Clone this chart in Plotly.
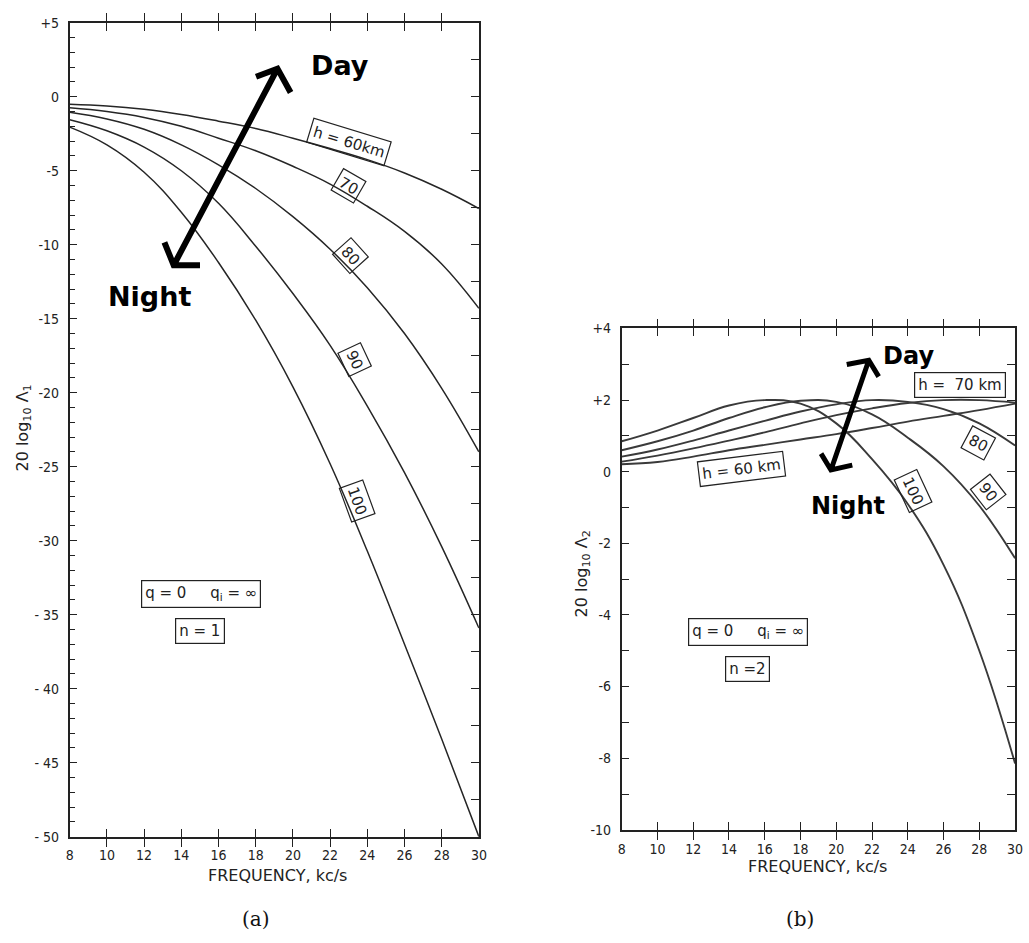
import plotly.graph_objects as go

W, H = 1029, 943

# ---- data -------------------------------------------------------------
freq = [8, 10, 12, 14, 16, 18, 20, 22, 24, 26, 28, 30]          # kc/s

# (a) n = 1 : 20 log10 Lambda_1 (dB) for reflection heights h
a_h60 = [-0.5, -0.62, -0.85, -1.2, -1.65, -2.15, -2.8, -3.5, -4.25, -5.15, -6.25, -7.55]
a_h70 = [-0.75, -1.0, -1.4, -2.0, -2.8, -3.65, -4.7, -5.9, -7.4, -9.1, -11.3, -14.3]
a_h80 = [-1.05, -1.5, -2.2, -3.25, -4.6, -6.2, -8.1, -10.3, -12.9, -16.0, -19.7, -24.0]
a_h90 = [-1.55, -2.3, -3.4, -5.0, -7.2, -10.1, -13.3, -16.8, -20.9, -25.4, -30.4, -35.9]
a_h100 = [-2.05, -3.25, -5.1, -7.8, -11.2, -15.1, -19.6, -24.8, -30.7, -37.0, -43.4, -50.0]

# (b) n = 2 : 20 log10 Lambda_2 (dB)
b_h60 = [0.21, 0.27, 0.42, 0.6, 0.75, 0.9, 1.05, 1.22, 1.4, 1.56, 1.72, 1.9]
b_h70 = [0.28, 0.45, 0.65, 0.87, 1.1, 1.35, 1.58, 1.77, 1.92, 2.0, 2.0, 1.93]
b_h80 = [0.42, 0.62, 0.87, 1.15, 1.42, 1.68, 1.88, 2.0, 1.95, 1.75, 1.35, 0.73]
b_h90 = [0.6, 0.85, 1.15, 1.5, 1.8, 1.98, 1.95, 1.6, 0.95, 0.15, -0.95, -2.42]
b_h100 = [0.85, 1.15, 1.5, 1.85, 2.0, 1.9, 1.35, 0.35, -0.9, -2.6, -5.0, -8.15]

a_ytick_vals = [5, 0, -5, -10, -15, -20, -25, -30, -35, -40, -45, -50]
a_ytick_text = ["+5", "0", "-5", "-10", "-15", "-20", "-25", "-30", "- 35", "- 40", "- 45", "- 50"]
b_ytick_vals = [4, 2, 0, -2, -4, -6, -8, -10]
b_ytick_text = ["+4", "+2", "0", "-2", "-4", "-6", "-8", "-10"]

# ---- styling ----------------------------------------------------------
INK = "#222222"
TICKFONT = dict(family="DejaVu Sans Condensed, Liberation Sans Narrow, DejaVu Sans, sans-serif",
                size=14, color=INK)
LABEL = "DejaVu Sans, Verdana, sans-serif"
SERIF = "DejaVu Serif, Liberation Serif, serif"


def px(x):
    return x / W


def py(y):
    return 1 - y / H


fig = go.Figure()

for ys in (a_h60, a_h70, a_h80, a_h90, a_h100):
    fig.add_trace(go.Scatter(x=freq, y=ys, mode="lines", xaxis="x", yaxis="y",
                             line=dict(color="#262626", width=1.5, shape="spline", smoothing=1.2),
                             showlegend=False, hoverinfo="skip"))
# carriers for the right-hand tick axes
fig.add_trace(go.Scatter(x=[None], y=[None], xaxis="x", yaxis="y3",
                         showlegend=False, hoverinfo="skip"))
fig.add_trace(go.Scatter(x=[None], y=[None], xaxis="x2", yaxis="y4",
                         showlegend=False, hoverinfo="skip"))

for ys in (b_h60, b_h70, b_h80, b_h90, b_h100):
    fig.add_trace(go.Scatter(x=freq, y=ys, mode="lines", xaxis="x2", yaxis="y2",
                             line=dict(color="#3a3a3a", width=1.9, shape="spline", smoothing=1.2),
                             showlegend=False, hoverinfo="skip"))

common_x = dict(range=[8, 30], tickvals=freq, ticktext=[str(f) for f in freq],
                ticks="inside", ticklen=8, tickwidth=1.3, tickcolor=INK,
                mirror="allticks", showline=True, linecolor=INK, linewidth=1.8,
                showgrid=False, zeroline=False, tickfont=TICKFONT,
                ticklabelstandoff=5, fixedrange=True)

right_ticks = dict(side="right", showticklabels=False, showline=False, ticks="inside",
                   ticklen=8, tickwidth=1.3, tickcolor=INK, showgrid=False,
                   zeroline=False, fixedrange=True)

fig.update_layout(
    width=W, height=H, margin=dict(l=0, r=0, t=0, b=0),
    paper_bgcolor="white", plot_bgcolor="white",
    xaxis=dict(domain=[px(66.5), px(480.5)], anchor="y", **common_x),
    yaxis=dict(domain=[py(843), py(15)], anchor="x", range=[-50, 5],
               tickvals=a_ytick_vals, ticktext=a_ytick_text,
               ticks="inside", ticklen=7, tickwidth=1.3, tickcolor=INK,
               minor=dict(dtick=1, tick0=0, ticks="inside", ticklen=5,
                          tickwidth=1.1, tickcolor=INK, showgrid=False),
               mirror=True, showline=True, linecolor=INK, linewidth=1.8,
               showgrid=False, zeroline=False, tickfont=TICKFONT,
               ticklabelstandoff=6, fixedrange=True),
    yaxis3=dict(overlaying="y", anchor="x", range=[-50, 5],
                tickvals=[5 - 2.5 * k for k in range(23)], **right_ticks),
    xaxis2=dict(domain=[px(625), px(1023)], anchor="y2", **common_x),
    yaxis2=dict(domain=[py(836), py(326)], anchor="x2", range=[-10, 4],
                tickvals=b_ytick_vals, ticktext=b_ytick_text,
                ticks="inside", ticklen=7, tickwidth=1.3, tickcolor=INK,
                minor=dict(dtick=1, tick0=0, ticks="inside", ticklen=7,
                           tickwidth=1.3, tickcolor=INK, showgrid=False),
                mirror=True, showline=True, linecolor=INK, linewidth=1.8,
                showgrid=False, zeroline=False, tickfont=TICKFONT,
                ticklabelstandoff=6, fixedrange=True),
    yaxis4=dict(overlaying="y2", anchor="x2", range=[-10, 4],
                tickvals=list(range(-10, 5)), **right_ticks),
)

ann = []


def text(x, y, s, size=14, angle=0, box=False, family=LABEL, color=INK, bold=False):
    a = dict(x=px(x), y=py(y), xref="paper", yref="paper",
             text=("<b>" + s + "</b>") if bold else s, showarrow=False,
             xanchor="center", yanchor="middle", textangle=angle,
             font=dict(family=family, size=size, color=color))
    if box:
        a.update(bordercolor=INK, borderwidth=1.2, borderpad=3)
    ann.append(a)


NB = "\u00a0"

# curve labels, panel (a)
text(349, 136, "h = 60km", 15, 17, box=True)
text(349, 181, "70", 15, 30, box=True)
text(351, 252, "80", 15, 48, box=True)
text(355, 358, "90", 15, 65, box=True)
text(357, 502, "100", 15, 70, box=True)
text(199, 596, "q = 0" + NB * 5 + "q<sub>i</sub> = ∞", 15, box=True)
text(198, 634, "n = 1", 15, box=True)

# curve labels, panel (b)
text(746, 469, "h = 60 km", 15, -7, box=True)
text(967, 384, "h =" + NB * 2 + "70 km", 15, 0, box=True)
text(986, 442, "80", 15, 28, box=True)
text(996, 492, "90", 15, 52, box=True)
text(920, 491, "100", 15, 65, box=True)
text(753, 635, "q = 0" + NB * 5 + "q<sub>i</sub> = ∞", 15, box=True)
text(752, 672, "n =2", 15, box=True)

# axis titles
text(20, 427, "20 log<sub>10</sub> Λ<sub>1</sub>", 16, -90)
text(585, 576, "20 log<sub>10</sub> Λ<sub>2</sub>", 16, -90)
text(277, 882, "FREQUENCY, kc/s", 16)
text(823, 873, "FREQUENCY, kc/s", 16)
text(255, 927, "(a)", 20, family=SERIF, color="#111")
text(805, 927, "(b)", 20, family=SERIF, color="#111")

# Day / Night captions
text(340, 59, "Day", 27, color="black", bold=True)
text(147, 293, "Night", 27, color="black", bold=True)
text(915, 354, "Day", 24, color="black", bold=True)
text(854, 507, "Night", 24, color="black", bold=True)

fig.update_layout(annotations=ann)


def arrow_path(tail, tip, tip_arms, tail_arms):
    def P(p):
        return f"{px(p[0]):.5f},{py(p[1]):.5f}"
    d = f"M{P(tail)} L{P(tip)} "
    d += f"M{P(tip_arms[0])} L{P(tip)} L{P(tip_arms[1])} "
    d += f"M{P(tail_arms[0])} L{P(tail)} L{P(tail_arms[1])}"
    return d


shapes = [
    dict(type="path", xref="paper", yref="paper",
         path=arrow_path((171.7, 261.7), (276.7, 61.7),
                         [(255, 70), (290, 86)], [(162.3, 238.3), (198.3, 261.7)]),
         line=dict(color="black", width=6)),
    dict(type="path", xref="paper", yref="paper",
         path=arrow_path((836.7, 470), (875, 358.3),
                         [(852.7, 362.7), (885, 375)], [(826.7, 453.3), (858.3, 465)]),
         line=dict(color="black", width=5)),
]
fig.update_layout(shapes=shapes)

fig.write_html("out.html")
